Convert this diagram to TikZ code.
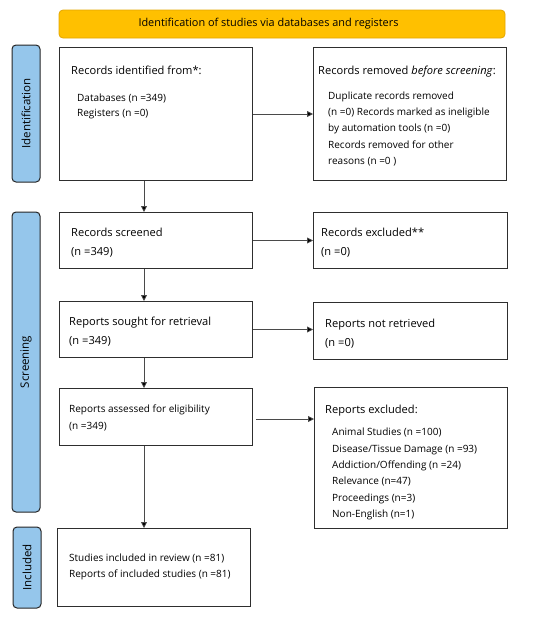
\documentclass[tikz,border=0pt]{standalone}
\usepackage{fontspec}
\setmainfont{Open Sans}
\usetikzlibrary{arrows.meta}
\definecolor{orangefill}{HTML}{FFC000}
\definecolor{orangeline}{HTML}{E3A600}
\definecolor{sidefill}{HTML}{95C6EB}
\definecolor{boxline}{HTML}{2E2E2E}
\definecolor{arrline}{HTML}{4A4A4A}
\begin{document}
\begin{tikzpicture}[x=1pt,y=-1pt,
  box/.style={draw=boxline, line width=1pt, fill=white, anchor=north west, inner sep=0pt},
  side/.style={draw=black!85, line width=1pt, fill=sidefill, rounded corners=4pt, rotate=90, inner sep=0pt, minimum height=28pt, font=\fontsize{11.5}{13}\selectfont},
  arr/.style={draw=arrline, line width=0.8pt, -{Triangle[length=6pt,width=6pt,fill=black]}},
  tbig/.style={anchor=base west, inner sep=0pt, font=\fontsize{11.1}{13}\selectfont},
  tsmall/.style={anchor=base west, inner sep=0pt, font=\fontsize{10}{12}\selectfont},
]
\useasboundingbox (0,0) rectangle (550,622);

% header
\node[draw=orangeline, fill=orangefill, line width=0.8pt, rounded corners=4pt, minimum width=446pt, minimum height=28pt] (head) at (282,24) {};
\node[inner sep=0pt, font=\fontsize{10.9}{12}\selectfont] (headt) at (268.5,24) {Identification of studies via databases and registers};

% side labels
\node[side, minimum width=137pt] (sid) at (26,113.5) {Identification};
\node[side, minimum width=300pt] (sscr) at (26,362) {Screening};
\node[side, minimum width=81pt] (sinc) at (27,567.5) {Included};

% boxes
\node[box, minimum width=193pt, minimum height=133pt] (b1) at (59,47) {};
\node[box, minimum width=193pt, minimum height=133pt] (r1) at (313,47) {};
\node[box, minimum width=193pt, minimum height=56pt] (b2) at (59,212) {};
\node[box, minimum width=194pt, minimum height=56pt] (r2) at (313,212) {};
\node[box, minimum width=193pt, minimum height=56pt] (b3) at (59,301) {};
\node[box, minimum width=194pt, minimum height=57pt] (r3) at (313,302) {};
\node[box, minimum width=193pt, minimum height=57pt] (b4) at (59,388) {};
\node[box, minimum width=193pt, minimum height=141pt] (r4) at (314,387) {};
\node[box, minimum width=193pt, minimum height=78pt] (b5) at (57,528) {};

% texts
\node[tbig] (t1a) at (71,74.5) {Records identified from*:};
\node[tsmall] (t1b) at (77,101.5) {Databases (n =349)};
\node[tsmall] (t1c) at (77,116.5) {Registers (n =0)};

\node[tbig] (u1a) at (318,74.5) {Records removed \emph{before screening}:};
\node[tsmall] (u1b) at (328,99) {Duplicate records removed};
\node[tsmall] (u1c) at (328,115) {(n =0) Records marked as ineligible};
\node[tsmall] (u1d) at (328,131) {by automation tools (n =0)};
\node[tsmall] (u1e) at (328,148) {Records removed for other};
\node[tsmall] (u1f) at (328,164) {reasons (n =0 )};

\node[tbig] (t2a) at (71,236) {Records screened};
\node[tbig] (t2b) at (71,255) {(n =349)};
\node[tbig] (u2a) at (321,236) {Records excluded**};
\node[tbig] (u2b) at (321,255) {(n =0)};

\node[tbig] (t3a) at (69,325) {Reports sought for retrieval};
\node[tbig] (t3b) at (69,344) {(n =349)};
\node[tbig] (u3a) at (325,327) {Reports not retrieved};
\node[tbig] (u3b) at (325,346) {(n =0)};

\node[tsmall] (t4a) at (69,412) {Reports assessed for eligibility};
\node[tsmall] (t4b) at (69,429) {(n =349)};
\node[tbig] (u4a) at (325,413) {Reports excluded:};
\node[tsmall] (u4b) at (332,435.5) {Animal Studies (n =100)};
\node[tsmall] (u4c) at (332,452) {Disease/Tissue Damage (n =93)};
\node[tsmall] (u4d) at (332,468) {Addiction/Offending (n =24)};
\node[tsmall] (u4e) at (332,484) {Relevance (n=47)};
\node[tsmall] (u4f) at (332,501) {Proceedings (n=3)};
\node[tsmall] (u4g) at (332,517) {Non-English (n=1)};

\node[tsmall] (t5a) at (69,561) {Studies included in review (n =81)};
\node[tsmall] (t5b) at (69,577) {Reports of included studies (n =81)};

% connectors
\draw[arr] ([xshift=85pt]b1.south west) -- ([xshift=85pt]b2.north west);
\draw[arr] ([xshift=85pt]b2.south west) -- ([xshift=85pt]b3.north west);
\draw[arr] ([xshift=85pt]b3.south west) -- ([xshift=85pt]b4.north west);
\draw[arr] ([xshift=85pt]b4.south west) -- ([xshift=87pt]b5.north west);
\draw[arr] (b1.east) -- (r1.west);
\draw[arr] (b2.east) -- (r2.west |- b2.east);
\draw[arr] (b3.east) -- (r3.west |- b3.east);
\draw[arr] ([xshift=3pt,yshift=-2pt]b4.east) -- ([yshift=-2pt]r4.west |- b4.east);
\end{tikzpicture}
\end{document}
